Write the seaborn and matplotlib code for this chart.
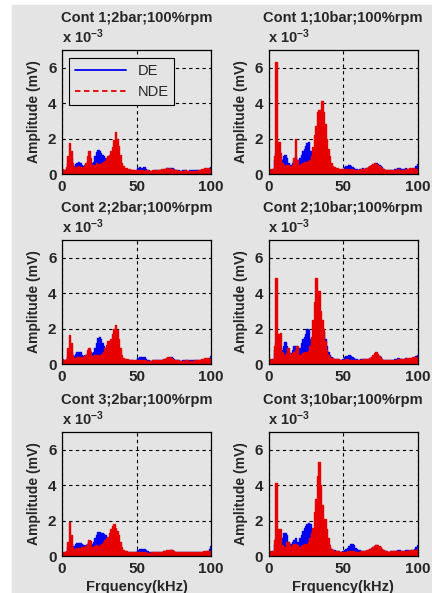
import numpy as np
import pandas as pd
import seaborn as sns
import matplotlib.pyplot as plt
from matplotlib.lines import Line2D
from matplotlib.patches import Rectangle

# frequency axis, 1 kHz bins
freq = np.arange(0, 101)

# amplitudes in units of 1e-3 mV
c1_2bar_de = [0.15,0.15,0.2,0.3,0.6,1.0,0.9,0.4,0.45,0.55,
              0.6,0.65,0.6,0.5,0.45,0.5,0.5,0.7,0.9,0.7,
              0.6,0.7,1.0,1.25,1.35,1.3,1.2,1.1,1.0,0.9,
              0.85,0.8,0.9,1.0,1.1,1.2,1.3,1.1,0.9,0.6,
              0.4,0.3,0.3,0.25,0.25,0.2,0.2,0.2,0.15,0.15,
              0.2,0.35,0.4,0.35,0.3,0.4,0.3,0.25,0.2,0.15,
              0.15,0.15,0.2,0.2,0.25,0.2,0.2,0.25,0.3,0.3,
              0.35,0.35,0.3,0.35,0.35,0.3,0.25,0.2,0.2,0.15,
              0.15,0.2,0.2,0.2,0.15,0.15,0.2,0.2,0.2,0.2,
              0.25,0.2,0.2,0.15,0.15,0.2,0.25,0.3,0.3,0.35,
              0.4]
c1_2bar_nde = [0.3,0.25,0.2,0.4,1.0,1.75,1.3,0.6,0.4,0.35,
               0.4,0.45,0.4,0.35,0.4,0.45,0.6,1.0,1.3,0.9,
               0.5,0.45,0.5,0.6,0.55,0.5,0.55,0.6,0.65,0.75,
               0.9,1.0,1.1,1.3,1.5,1.9,2.35,2.0,1.6,1.1,
               0.6,0.45,0.35,0.35,0.3,0.3,0.25,0.25,0.2,0.2,
               0.2,0.2,0.25,0.2,0.2,0.15,0.2,0.2,0.15,0.15,
               0.15,0.2,0.2,0.2,0.2,0.25,0.25,0.3,0.25,0.3,
               0.35,0.3,0.35,0.3,0.3,0.25,0.2,0.2,0.15,0.15,
               0.15,0.15,0.15,0.2,0.15,0.15,0.15,0.15,0.15,0.15,
               0.15,0.15,0.2,0.25,0.3,0.3,0.35,0.35,0.35,0.3,
               0.3]

c1_10bar_de = [0.2,0.2,0.2,0.3,0.8,1.2,1.0,1.2,0.9,0.8,
               1.0,1.05,0.9,0.6,0.5,0.5,0.6,0.8,1.0,0.8,
               0.7,0.9,1.1,1.3,1.4,1.6,1.75,1.8,1.3,1.0,
               1.0,1.2,1.5,1.8,2.0,2.2,2.0,1.8,1.4,1.0,
               0.7,0.5,0.4,0.35,0.3,0.3,0.3,0.25,0.25,0.25,
               0.3,0.4,0.45,0.4,0.5,0.45,0.4,0.35,0.3,0.3,
               0.25,0.3,0.3,0.35,0.3,0.3,0.35,0.4,0.45,0.5,
               0.5,0.55,0.6,0.55,0.5,0.45,0.4,0.3,0.25,0.2,
               0.2,0.2,0.2,0.25,0.25,0.3,0.3,0.35,0.35,0.3,
               0.3,0.3,0.35,0.3,0.25,0.25,0.3,0.3,0.35,0.45,
               0.55]
c1_10bar_nde = [0.3,0.3,0.25,0.3,1.0,6.3,1.8,1.8,1.2,0.6,
                0.5,0.45,0.5,0.5,0.45,0.4,0.5,0.9,1.95,0.8,
                0.5,0.5,0.55,0.6,0.65,0.7,0.7,0.75,0.8,1.0,
                1.5,2.2,2.7,3.5,3.6,3.2,4.1,3.5,2.8,2.0,
                1.4,1.0,0.6,0.45,0.4,0.35,0.35,0.3,0.3,0.3,
                0.3,0.3,0.3,0.3,0.25,0.3,0.3,0.25,0.25,0.25,
                0.25,0.25,0.3,0.3,0.3,0.35,0.35,0.4,0.45,0.5,
                0.55,0.6,0.55,0.5,0.45,0.4,0.35,0.3,0.25,0.2,
                0.2,0.2,0.2,0.2,0.25,0.25,0.25,0.3,0.25,0.25,
                0.25,0.25,0.3,0.3,0.3,0.35,0.35,0.35,0.3,0.3,
                0.3]

c2_2bar_de = [0.15,0.15,0.2,0.25,0.5,0.8,0.7,0.4,0.45,0.55,
              0.65,0.7,0.65,0.5,0.45,0.5,0.5,0.6,0.8,0.7,
              0.6,0.7,0.9,1.2,1.45,1.55,1.4,1.2,1.0,0.9,
              0.85,0.8,0.85,0.9,1.0,1.1,1.2,1.0,0.8,0.5,
              0.35,0.3,0.3,0.25,0.25,0.2,0.2,0.2,0.15,0.15,
              0.2,0.35,0.4,0.4,0.35,0.4,0.3,0.25,0.2,0.15,
              0.15,0.2,0.2,0.2,0.25,0.2,0.2,0.25,0.3,0.3,
              0.35,0.35,0.35,0.4,0.35,0.3,0.25,0.2,0.2,0.15,
              0.15,0.2,0.2,0.2,0.2,0.15,0.2,0.2,0.2,0.2,
              0.2,0.2,0.2,0.2,0.15,0.2,0.25,0.3,0.3,0.35,
              0.45]
c2_2bar_nde = [0.3,0.25,0.2,0.3,0.9,1.65,1.2,0.5,0.35,0.35,
               0.4,0.4,0.4,0.35,0.4,0.45,0.5,0.8,0.9,0.7,
               0.45,0.45,0.5,0.5,0.5,0.45,0.5,0.55,0.7,0.9,
               1.1,1.3,1.2,1.4,1.7,2.0,2.2,1.9,1.4,0.9,
               0.5,0.35,0.3,0.3,0.3,0.25,0.25,0.2,0.2,0.2,
               0.2,0.2,0.25,0.2,0.2,0.2,0.2,0.15,0.15,0.15,
               0.15,0.2,0.2,0.2,0.2,0.25,0.25,0.25,0.3,0.3,
               0.35,0.4,0.4,0.35,0.3,0.25,0.2,0.2,0.2,0.15,
               0.15,0.15,0.15,0.2,0.2,0.15,0.15,0.15,0.15,0.2,
               0.2,0.2,0.2,0.25,0.3,0.3,0.35,0.35,0.35,0.3,
               0.3]

c2_10bar_de = [0.2,0.2,0.2,0.3,0.8,1.2,1.0,1.0,0.9,0.8,
               1.0,1.25,1.0,0.7,0.6,0.6,0.8,1.0,1.0,0.8,
               0.7,0.9,1.2,1.4,1.5,1.7,1.95,1.9,1.4,1.0,
               1.0,1.2,1.5,1.8,2.0,2.2,2.0,1.8,1.4,1.0,
               0.7,0.5,0.4,0.35,0.3,0.3,0.3,0.25,0.25,0.25,
               0.3,0.4,0.45,0.45,0.5,0.45,0.4,0.35,0.3,0.3,
               0.25,0.25,0.3,0.3,0.3,0.3,0.3,0.3,0.35,0.4,
               0.45,0.5,0.55,0.5,0.45,0.4,0.3,0.25,0.2,0.2,
               0.2,0.2,0.2,0.25,0.25,0.3,0.3,0.35,0.3,0.3,
               0.3,0.3,0.35,0.3,0.3,0.3,0.3,0.35,0.4,0.45,
               0.5]
c2_10bar_nde = [0.3,0.3,0.25,0.3,1.0,4.85,1.5,1.7,1.75,0.7,
                0.5,0.5,0.6,0.9,0.6,0.5,0.6,0.7,0.8,1.0,
                0.5,0.5,0.55,0.6,0.65,0.7,0.7,0.75,1.0,1.5,
                2.5,3.5,4.85,4.0,4.1,3.0,2.5,2.0,1.3,0.8,
                0.5,0.4,0.35,0.35,0.3,0.3,0.3,0.3,0.25,0.25,
                0.25,0.25,0.3,0.3,0.25,0.25,0.25,0.25,0.25,0.25,
                0.25,0.25,0.25,0.3,0.3,0.3,0.3,0.3,0.35,0.4,
                0.5,0.6,0.65,0.55,0.45,0.35,0.3,0.25,0.2,0.2,
                0.2,0.2,0.2,0.2,0.25,0.25,0.25,0.3,0.3,0.3,
                0.3,0.3,0.3,0.35,0.35,0.35,0.35,0.4,0.4,0.4,
                0.4]

c3_2bar_de = [0.15,0.15,0.2,0.25,0.5,0.8,0.7,0.5,0.55,0.65,
              0.75,0.75,0.75,0.7,0.6,0.55,0.6,0.7,0.8,0.7,
              0.65,0.8,1.0,1.2,1.35,1.35,1.3,1.3,1.25,1.2,
              1.1,1.0,1.0,1.05,1.1,1.2,1.2,1.0,0.8,0.5,
              0.35,0.3,0.3,0.25,0.25,0.2,0.2,0.2,0.2,0.2,
              0.25,0.35,0.4,0.4,0.35,0.4,0.35,0.3,0.25,0.2,
              0.2,0.2,0.25,0.25,0.25,0.2,0.25,0.25,0.3,0.3,
              0.3,0.3,0.35,0.35,0.3,0.3,0.25,0.2,0.2,0.2,
              0.2,0.2,0.2,0.25,0.2,0.2,0.2,0.2,0.2,0.2,
              0.2,0.2,0.25,0.2,0.2,0.2,0.25,0.3,0.3,0.4,
              0.55]
c3_2bar_nde = [0.25,0.25,0.2,0.3,0.8,1.9,1.2,0.5,0.4,0.4,
               0.45,0.45,0.45,0.5,0.5,0.5,0.55,0.7,0.9,0.85,
               0.5,0.5,0.55,0.6,0.55,0.55,0.6,0.7,0.8,0.9,
               1.0,1.1,1.3,1.5,1.7,1.78,1.6,1.4,1.2,0.8,
               0.5,0.35,0.3,0.3,0.25,0.25,0.25,0.2,0.2,0.2,
               0.2,0.2,0.2,0.2,0.2,0.2,0.2,0.15,0.15,0.15,
               0.2,0.2,0.2,0.2,0.2,0.25,0.25,0.25,0.3,0.3,
               0.35,0.35,0.3,0.35,0.35,0.3,0.25,0.25,0.2,0.2,
               0.2,0.2,0.2,0.2,0.2,0.2,0.2,0.2,0.2,0.2,
               0.2,0.2,0.2,0.25,0.25,0.3,0.3,0.3,0.3,0.3,
               0.3]

c3_10bar_de = [0.2,0.2,0.2,0.3,0.7,1.0,1.0,1.0,0.9,1.0,
               1.3,1.3,1.2,0.8,0.7,0.7,0.8,0.9,1.0,0.8,
               0.8,1.0,1.2,1.4,1.6,1.7,1.8,1.85,1.8,1.2,
               1.0,1.2,1.5,1.8,2.0,2.2,2.0,1.8,1.5,1.0,
               0.7,0.5,0.4,0.35,0.35,0.3,0.3,0.3,0.25,0.25,
               0.3,0.35,0.4,0.45,0.55,0.65,0.7,0.6,0.45,0.4,
               0.35,0.35,0.3,0.3,0.3,0.3,0.3,0.35,0.4,0.45,
               0.5,0.55,0.6,0.55,0.5,0.45,0.4,0.35,0.3,0.3,
               0.25,0.25,0.3,0.3,0.3,0.3,0.3,0.35,0.35,0.3,
               0.3,0.3,0.35,0.35,0.3,0.3,0.35,0.35,0.4,0.5,
               0.6]
c3_10bar_nde = [0.3,0.3,0.25,0.3,0.9,4.1,1.2,1.5,1.5,0.6,
                0.5,0.5,0.8,0.8,0.6,0.5,0.6,0.7,0.7,0.6,
                0.5,0.5,0.55,0.6,0.65,0.7,0.7,0.8,1.0,1.3,
                1.6,2.5,3.2,4.5,5.3,4.0,2.9,2.0,2.1,1.5,
                1.0,0.6,0.4,0.35,0.3,0.3,0.3,0.3,0.25,0.25,
                0.25,0.25,0.25,0.3,0.3,0.3,0.3,0.3,0.25,0.25,
                0.25,0.25,0.3,0.3,0.3,0.3,0.35,0.35,0.4,0.45,
                0.5,0.55,0.6,0.6,0.55,0.5,0.4,0.35,0.3,0.3,
                0.25,0.25,0.3,0.3,0.3,0.3,0.3,0.3,0.3,0.3,
                0.3,0.3,0.3,0.3,0.3,0.35,0.35,0.35,0.35,0.35,
                0.4]

titles = ['Cont 1;2bar;100%rpm', 'Cont 1;10bar;100%rpm',
          'Cont 2;2bar;100%rpm', 'Cont 2;10bar;100%rpm',
          'Cont 3;2bar;100%rpm', 'Cont 3;10bar;100%rpm']
de_series = [c1_2bar_de, c1_10bar_de, c2_2bar_de, c2_10bar_de, c3_2bar_de, c3_10bar_de]
nde_series = [c1_2bar_nde, c1_10bar_nde, c2_2bar_nde, c2_10bar_nde, c3_2bar_nde, c3_10bar_nde]

bg = '#e4e4e4'
blue = '#0000f0'
red = '#e60000'

sns.set_style('white', {'axes.facecolor': bg, 'axes.edgecolor': 'black'})
plt.rcParams['font.family'] = ['Liberation Sans', 'DejaVu Sans']
plt.rcParams['font.weight'] = 'bold'
plt.rcParams['mathtext.fontset'] = 'custom'
plt.rcParams['mathtext.bf'] = 'Liberation Sans:bold'
plt.rcParams['mathtext.rm'] = 'Liberation Sans:bold'
plt.rcParams['mathtext.default'] = 'bf'

fig = plt.figure(figsize=(4.32, 5.93), dpi=100, facecolor='white')
fig.patches.append(Rectangle((12 / 432, 0), 420 / 432, 588 / 593,
                             transform=fig.transFigure, color=bg, zorder=-1))

W, H = 432, 593
lefts = [62, 268.5]
tops = [50, 240, 432]
aw, ah = 149, 124

for i in range(6):
    r, c = divmod(i, 2)
    ax = fig.add_axes([lefts[c] / W, 1 - (tops[r] + ah) / H, aw / W, ah / H])
    df = pd.DataFrame({'f': freq, 'DE': de_series[i], 'NDE': nde_series[i]})
    # DE first, NDE drawn over it
    ax.fill_between(df['f'], df['DE'], step='mid', color=blue, lw=0, zorder=1.0)
    sns.lineplot(data=df, x='f', y='DE', ax=ax, color=blue, lw=1.0,
                 drawstyle='steps-mid', legend=False, zorder=1.1)
    ax.fill_between(df['f'], df['NDE'], step='mid', color=red, lw=0, zorder=1.2)
    sns.lineplot(data=df, x='f', y='NDE', ax=ax, color=red, lw=1.0,
                 drawstyle='steps-mid', legend=False, zorder=1.3)
    ax.set_xlim(0, 100)
    ax.set_ylim(0, 7)
    ax.set_xticks([0, 50, 100])
    ax.set_yticks([0, 2, 4, 6])
    ax.set_axisbelow(True)
    ax.grid(True, color='black', ls=(0, (3, 3)), lw=0.8)
    for s in ax.spines.values():
        s.set_linewidth(0.9)
        s.set_zorder(5)
    ax.tick_params(direction='in', length=3, width=0.8, labelsize=11, pad=4)
    for lab in ax.get_xticklabels() + ax.get_yticklabels():
        lab.set_fontweight('bold')
    ax.set_ylabel('Amplitude (mV)', fontsize=10, fontweight='bold', labelpad=5)
    if r == 2:
        ax.set_xlabel('Frquency(kHz)', fontsize=10.5, fontweight='bold', labelpad=3)
    else:
        ax.set_xlabel('')
    ax.set_title(titles[i], fontsize=10.5, fontweight='bold', pad=20)
    ax.text(0, 1.035, 'x 10$^{-3}$', transform=ax.transAxes, ha='left', va='bottom',
            fontsize=10.5, fontweight='bold')
    if i == 0:
        handles = [Line2D([], [], color=blue, lw=1.3, ls='-'),
                   Line2D([], [], color=red, lw=1.3, ls=(0, (3, 2)))]
        leg = ax.legend(handles, ['DE', 'NDE'], loc='upper left',
                        bbox_to_anchor=(0.047, 0.935), borderaxespad=0,
                        fancybox=False, framealpha=1, facecolor=bg,
                        edgecolor='black', handlelength=3.5,
                        prop={'size': 10.5, 'weight': 'normal'})
        leg.get_frame().set_linewidth(0.8)

fig.savefig('out.png', dpi=100, facecolor='white')
